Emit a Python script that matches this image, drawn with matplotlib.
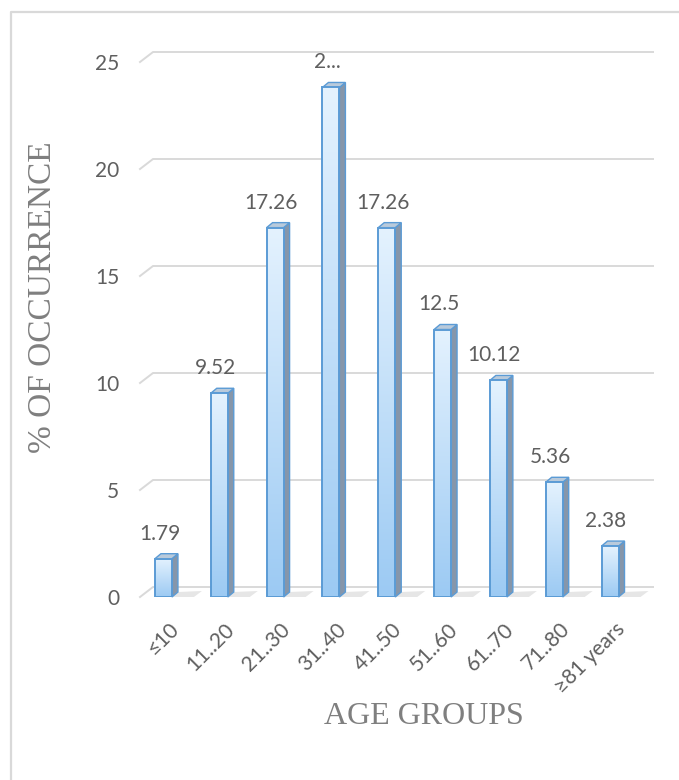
import numpy as np
import matplotlib.pyplot as plt
from matplotlib.patches import Polygon, Rectangle
from matplotlib.colors import LinearSegmentedColormap
from matplotlib.lines import Line2D
import matplotlib.transforms as mtransforms

# data
groups = ["≤10", "11..20", "21..30", "31..40", "41..50",
          "51..60", "61..70", "71..80", "≥81 years"]
occurrence = [1.79, 9.52, 17.26, 23.81, 17.26, 12.5, 10.12, 5.36, 2.38]
y_ticks = [0, 5, 10, 15, 20, 25]

W, H = 679, 780
fig = plt.figure(figsize=(W / 100, H / 100), dpi=100)

# plot area in pixels (front plane)
left, right, top, bottom = 140, 653, 62, 597
ax = fig.add_axes([left / W, 1 - bottom / H, (right - left) / W, (bottom - top) / H])
x0, x1 = -0.42, 8.77
ax.set_xlim(x0, x1)
ax.set_ylim(0, 25)

ux = (right - left) / (x1 - x0)   # px per x unit
uy = (bottom - top) / 25.0        # px per y unit

grid_c = "#d9d9d9"
text_c = "#5f5f5f"
font = ["Lato", "DejaVu Sans"]
fs = 15

# fake 3d gridlines: slanted piece on the side wall then along the back wall
gdx, gdy = 13 / ux, 10 / uy
for v in y_ticks:
    ax.add_line(Line2D([x0, x0 + gdx, x1], [v, v + gdy, v + gdy],
                       color=grid_c, lw=1.4, zorder=0, clip_on=False))

# bars with a little depth
w = 17 / ux
bdx, bdy = 6 / ux, 5 / uy
cmap = LinearSegmentedColormap.from_list("bar", ["#9ccaf3", "#e4f2fe"])
grad = np.linspace(0, 1, 200).reshape(-1, 1)
edge = "#5b9bd5"

for i, v in enumerate(occurrence):
    xl, xr = i - w / 2, i + w / 2
    # soft shadow on the floor
    ax.add_patch(Polygon([(xl, 0), (xr + 22 / ux, 0), (xr + 30 / ux, 6 / uy), (xr + bdx, bdy)],
                         closed=True, facecolor="#e6e6e6", edgecolor="none", zorder=1, clip_on=False))
    ax.imshow(grad, extent=[xl, xr, 0, v], origin="lower", aspect="auto",
              cmap=cmap, zorder=3, interpolation="bilinear")
    ax.add_patch(Rectangle((xl, 0), w, v, facecolor="none", edgecolor=edge,
                           lw=1.4, zorder=4))
    ax.add_patch(Polygon([(xr, 0), (xr + bdx, bdy), (xr + bdx, v + bdy), (xr, v)],
                         closed=True, facecolor="#8696aa", edgecolor=edge, lw=1.0, zorder=2,
                         clip_on=False))
    ax.add_patch(Polygon([(xl, v), (xl + bdx, v + bdy), (xr + bdx, v + bdy), (xr, v)],
                         closed=True, facecolor="#b9cadb", edgecolor=edge, lw=1.0, zorder=2,
                         clip_on=False))

# data labels (the tallest one is truncated in the original)
labels = ["%g" % v for v in occurrence]
labels[int(np.argmax(occurrence))] = "2..."
lab_tr = mtransforms.offset_copy(ax.transData, fig=fig, x=-4, y=19, units="dots")
for i, v in enumerate(occurrence):
    ax.text(i, v, labels[i], transform=lab_tr, ha="center", va="baseline",
            fontsize=fs, color=text_c, family=font)

# axes cosmetics
for s in ax.spines.values():
    s.set_visible(False)
ax.set_yticks(y_ticks)
ax.set_yticklabels([str(t) for t in y_ticks], fontsize=fs, color=text_c, family=font)
ax.tick_params(axis="y", length=0, pad=15)
ax.set_xticks([])

tick_tr = mtransforms.offset_copy(ax.transData, fig=fig, x=5, y=-22, units="dots")
for i, g in enumerate(groups):
    ax.text(i, 0, g, transform=tick_tr, rotation=45, rotation_mode="anchor",
            ha="right", va="top", fontsize=fs, color=text_c, family=font)

fig.text(424 / W, 1 - 717 / H, "AGE GROUPS", ha="center", va="center",
         fontsize=23, color="#7f7f7f", family="Liberation Serif")
fig.text(43 / W, 1 - 297 / H, "% OF OCCURRENCE", ha="center", va="center",
         rotation=90, fontsize=24, color="#7f7f7f", family="Liberation Serif")

# chart frame (only top and left edges are visible in the picture)
fig.add_artist(Line2D([11 / W, 11 / W, 1], [0, 1 - 12 / H, 1 - 12 / H],
                      transform=fig.transFigure, color=grid_c, lw=1.6))

fig.savefig("out.png", dpi=100)
